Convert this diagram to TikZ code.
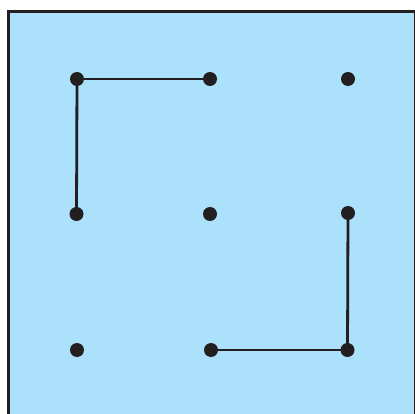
\documentclass[tikz,border=0pt]{standalone}
\definecolor{dark}{HTML}{231F20}
\definecolor{sky}{HTML}{ABE1FA}
\tikzset{
  dot/.style={circle,fill=dark,inner sep=0pt,minimum size=14pt},
  link/.style={draw=dark,line width=2.8pt},
  frame/.style={draw=dark,fill=sky,line width=3.5pt}
}
\begin{document}
\begin{tikzpicture}[x=1pt,y=-1pt]
\useasboundingbox (0,0) rectangle (415,414);
\clip (0,0) rectangle (415,414);
\path[frame] (8.3,11.6) rectangle (415.6,430);
\node[dot] (a1) at (77,79) {};
\node[dot] (a2) at (210,79) {};
\node[dot] (a3) at (348,79) {};
\node[dot] (b1) at (76.5,214) {};
\node[dot] (b2) at (210,214) {};
\node[dot] (b3) at (348,213) {};
\node[dot] (c1) at (77,350) {};
\node[dot] (c2) at (211,350) {};
\node[dot] (c3) at (347.5,350) {};
\draw[link] (a1.center) -- (a2.center);
\draw[link] (a1.center) -- (b1.center);
\draw[link] (b3.center) -- (c3.center);
\draw[link] (c2.center) -- (c3.center);
\end{tikzpicture}
\end{document}
